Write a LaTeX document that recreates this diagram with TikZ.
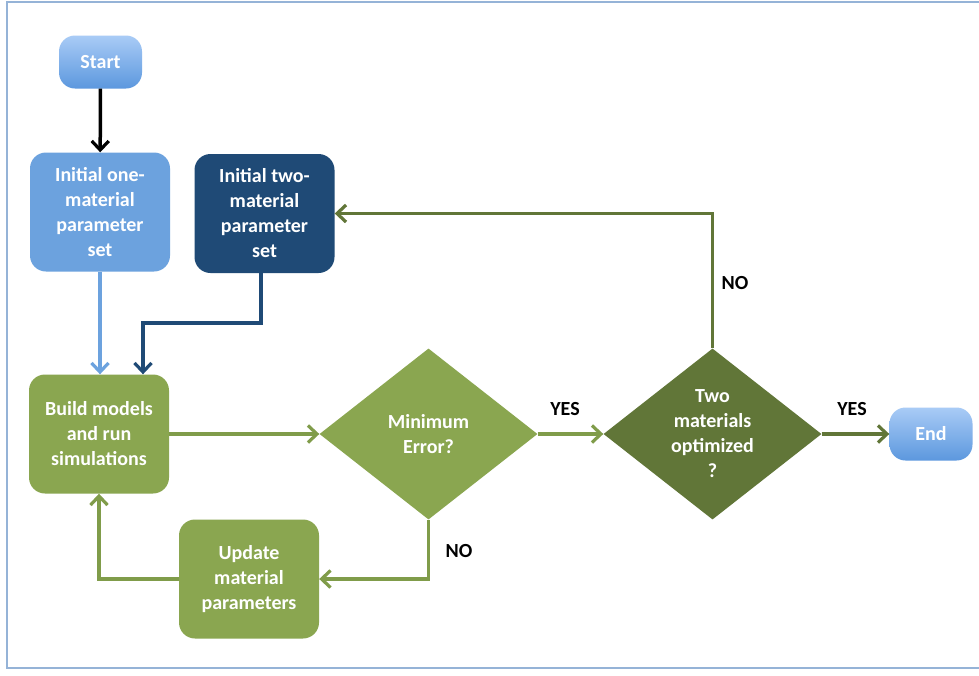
\documentclass[tikz,border=0pt]{standalone}
\usepackage{fontspec}
\setmainfont{Carlito}
\usetikzlibrary{shapes.geometric,arrows.meta}
\definecolor{frameblue}{HTML}{95B3D7}
\definecolor{lbtop}{HTML}{A9CBF6}
\definecolor{lbbot}{HTML}{5C98DE}
\definecolor{onecol}{HTML}{6CA2DE}
\definecolor{twocol}{HTML}{1F4A76}
\definecolor{greenbox}{HTML}{8AA650}
\definecolor{darkgreen}{HTML}{617638}
\definecolor{greenline}{HTML}{809C4A}
\tikzset{
  txt/.style={font=\bfseries\fontsize{20}{25}\selectfont, text=white, align=center, inner sep=0pt},
  term/.style={txt, rounded corners=16pt, top color=lbtop, bottom color=lbbot, draw=none, minimum width=83pt, minimum height=53pt},
  procbox/.style={txt, rounded corners=16pt, minimum width=140pt, minimum height=119pt},
  decide/.style={txt, diamond, minimum width=218pt, minimum height=171pt},
  lbl/.style={font=\bfseries\fontsize{20}{24}\selectfont, text=black, inner sep=0pt},
  arr/.style={line width=3.2pt, -{Straight Barb[length=9pt,width=17pt,line width=3.2pt]}},
}
\begin{document}
\begin{tikzpicture}[x=1pt,y=-1pt]
\useasboundingbox (0,0) rectangle (979,675);
\fill[white] (0,0) rectangle (979,675);
\draw[frameblue, line width=2pt] (7,2) rectangle (990,668);

\node[term] (start) at (100.5,62) {Start};
\node[procbox, fill=onecol] (one) at (100,212) {Initial one-\\material\\parameter\\set};
\node[procbox, fill=twocol] (two) at (264.5,213.5) {Initial two-\\material\\parameter\\set};
\node[procbox, fill=greenbox] (build) at (99,434) {Build models\\and run\\simulations};
\node[decide, fill=greenbox] (min) at (428.5,434) {Minimum\\Error?};
\node[decide, fill=darkgreen] (twom) at (712.5,434) {Two\\materials\\optimized\\?};
\node[term] (endn) at (931,434) {End};
\node[procbox, fill=greenbox] (upd) at (249,579) {Update\\material\\parameters};

\coordinate (bend1) at (261,323);
\coordinate (bend2) at (143,323);

\draw[arr, black, line width=3.5pt] (start) -- (one);
\draw[arr, onecol] (one.south) -- (one.south |- build.north);
\draw[arr, twocol, line join=miter] (261,0 |- two.south) -- (bend1) -- (bend2) -- (bend2 |- build.north);
\draw[arr, greenline] (build.east) -- (min.west);
\draw[arr, greenline] (min.east) -- (twom.west);
\draw[arr, darkgreen] (twom.east) -- (endn.west);
\draw[arr, darkgreen] (twom.north) |- (two.east);
\draw[arr, greenline] (min.south) |- (upd.east);
\draw[arr, greenline] (upd.west) -| (build.south);

\node[lbl] (yes1) at (565,409) {YES};
\node[lbl] (yes2) at (852,409) {YES};
\node[lbl] (no1) at (735,283) {NO};
\node[lbl] (no2) at (459,551) {NO};
\end{tikzpicture}
\end{document}
